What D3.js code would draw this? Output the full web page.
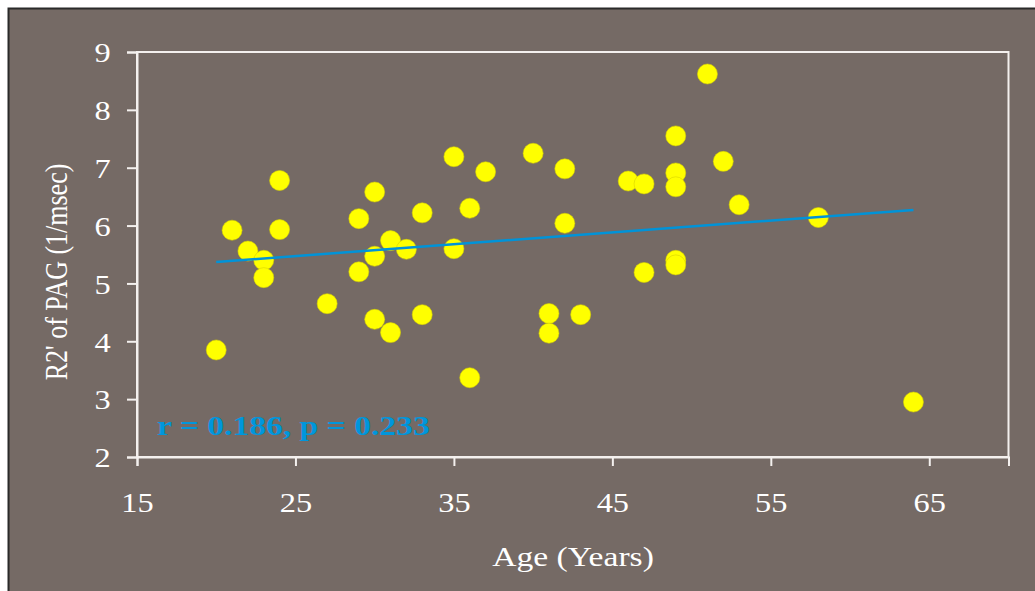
<!DOCTYPE html>
<html>
<head>
<meta charset="utf-8">
<script src="https://cdn.jsdelivr.net/npm/d3@7"></script>
<style>
  html, body { margin: 0; padding: 0; background: #ffffff; }
  svg { display: block; }
</style>
</head>
<body>
<svg id="chart" width="1035" height="591"></svg>
<script>
// Age (years) of each subject
const ages = [20, 21, 22, 23, 23, 24, 24, 27, 29, 29, 30, 30, 30, 31, 31, 32, 33, 33,
              35, 35, 36, 36, 37, 40, 41, 41, 42, 42, 43, 46, 47, 47, 49, 49, 49, 49, 49,
              51, 52, 53, 58, 64];
// R2' of PAG (1/msec) for each subject
const r2Values = [3.85, 5.92, 5.56, 5.40, 5.10, 6.78, 5.93, 4.65, 6.12, 5.20, 6.58, 5.47, 4.38,
                  5.74, 4.15, 5.59, 6.22, 4.46, 7.19, 5.60, 6.30, 3.37, 6.93, 7.25, 4.48, 4.14,
                  6.98, 6.04, 4.46, 6.77, 6.72, 5.19, 7.55, 6.91, 6.67, 5.40, 5.32, 8.62, 7.11,
                  6.36, 6.14, 2.95];
// Linear fit end points
const fitAges = [20, 64];
const fitValues = [5.37, 6.27];

const xTicks = [15, 25, 35, 45, 55, 65];
const yTicks = [2, 3, 4, 5, 6, 7, 8, 9];
const statLabel = "r = 0.186, p = 0.233";

const svg = d3.select("#chart");
const W = 1035, H = 591;
const bg = "#756a65";
const serif = "'Liberation Serif', 'Times New Roman', serif";
const stretch = 1.2; // lettering is set slightly wide

// panel background with dark edge on the left and top
svg.append("rect").attr("x", 8).attr("y", 8).attr("width", W - 8).attr("height", H - 8)
  .attr("fill", bg);
svg.append("path").attr("d", `M8.5,${H} L8.5,8.5 L${W},8.5`)
  .attr("fill", "none").attr("stroke", "#2a2a2a").attr("stroke-width", 2);

const x = d3.scaleLinear().domain([15, 70]).range([137, 1008.5]);
const y = d3.scaleLinear().domain([2, 9]).range([457, 52]);

// plot frame
svg.append("rect")
  .attr("x", x(15)).attr("y", y(9))
  .attr("width", x(70) - x(15)).attr("height", y(2) - y(9))
  .attr("fill", "none").attr("stroke", "#f4f0ee").attr("stroke-width", 2);

const xAxis = svg.append("g").attr("transform", `translate(0,${y(2)})`)
  .call(d3.axisBottom(x).tickValues(xTicks).tickSize(9).tickPadding(27).tickFormat(d3.format("d")));
const yAxis = svg.append("g").attr("transform", `translate(${x(15)},0)`)
  .call(d3.axisLeft(y).tickValues(yTicks).tickSize(10).tickPadding(12).tickFormat(d3.format("d")));

[xAxis, yAxis].forEach(g => {
  g.select(".domain").attr("stroke", "#f4f0ee").attr("stroke-width", 2);
  g.selectAll(".tick line").attr("stroke", "#f4f0ee").attr("stroke-width", 2);
  g.selectAll(".tick text").attr("fill", "#ffffff")
    .attr("transform", `scale(${stretch},1)`)
    .style("font-family", serif).style("font-size", "27px");
});
yAxis.selectAll(".tick text").attr("dy", "0.36em");

// data points
svg.append("g").selectAll("circle")
  .data(ages.map((a, i) => [a, r2Values[i]]))
  .join("circle")
  .attr("cx", d => x(d[0]))
  .attr("cy", d => y(d[1]))
  .attr("r", 10)
  .attr("fill", "#ffff00")
  .attr("stroke", "#d8d400")
  .attr("stroke-width", 0.6);

// regression line
svg.append("path")
  .datum(fitAges.map((a, i) => [a, fitValues[i]]))
  .attr("d", d3.line().x(d => x(d[0])).y(d => y(d[1])))
  .attr("fill", "none")
  .attr("stroke", "#0093d8")
  .attr("stroke-width", 2.5);

// correlation statistic
svg.append("text")
  .attr("transform", `translate(157,435) scale(${stretch},1)`)
  .attr("fill", "#0096dc")
  .style("font-family", serif).style("font-size", "28px").style("font-weight", "bold")
  .text(statLabel);

// axis titles
svg.append("text")
  .attr("transform", `translate(573,566) scale(${stretch},1)`)
  .attr("text-anchor", "middle")
  .attr("fill", "#ffffff")
  .style("font-family", serif).style("font-size", "28px")
  .text("Age (Years)");

svg.append("text")
  .attr("transform", `translate(67,272) scale(${stretch},1) rotate(-90)`)
  .attr("text-anchor", "middle")
  .attr("fill", "#ffffff")
  .style("font-family", serif).style("font-size", "26px")
  .text("R2' of PAG (1/msec)");
</script>
</body>
</html>
